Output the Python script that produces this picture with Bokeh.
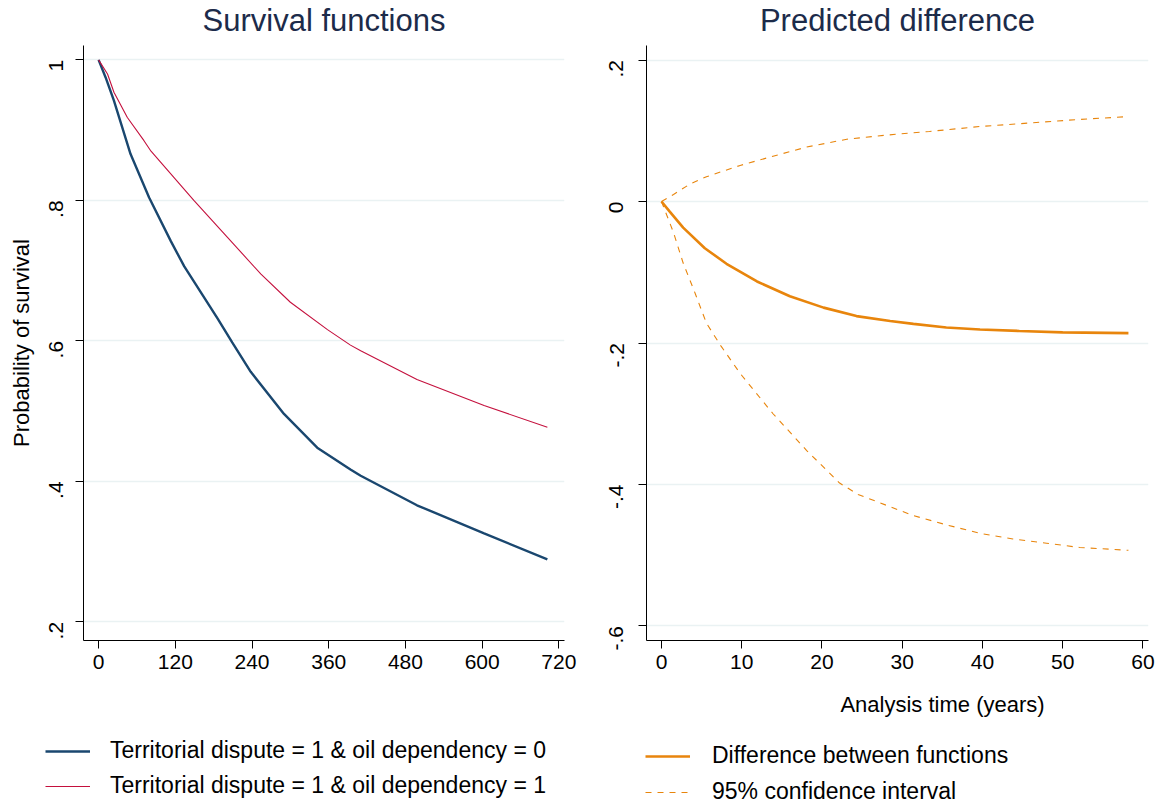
import math
from bokeh.plotting import figure
from bokeh.layouts import row, column
from bokeh.models import Range1d, FixedTicker, Legend, LegendItem, Label
from bokeh.embed import file_html
from bokeh.resources import INLINE

FONT = "Liberation Sans"
TITLE_COLOR = "#1c2b4a"
GRID_COLOR = "#eaf2f3"
NAVY = "#1a476f"
CRIMSON = "#c4103d"
ORANGE = "#e8850c"

# Survival functions (analysis time in months)
navy_months = [0, 11, 24, 50, 79, 113, 134, 186, 209, 238, 290, 342, 394, 410, 498, 603, 702]
navy_surv = [1.0, 0.975, 0.942, 0.866, 0.804, 0.742, 0.706, 0.632, 0.598, 0.556, 0.496,
             0.448, 0.417, 0.408, 0.366, 0.326, 0.289]
red_months = [0, 14, 24, 45, 71, 82, 149, 202, 254, 300, 358, 394, 410, 498, 603, 702]
red_surv = [1.0, 0.980, 0.954, 0.918, 0.885, 0.870, 0.800, 0.747, 0.695, 0.655, 0.616,
            0.594, 0.586, 0.545, 0.508, 0.477]

# Predicted difference (analysis time in years)
diff_years = [0, 1.0, 2.7, 5.4, 8.1, 11.9, 16.0, 20.2, 24.3, 28.5, 31.4, 35.5, 39.7, 44.6, 50.0, 58.2]
diff_vals = [0, -0.014, -0.037, -0.066, -0.088, -0.113, -0.134, -0.150, -0.162, -0.169,
             -0.173, -0.178, -0.181, -0.183, -0.185, -0.186]
upper_years = [0, 1.5, 3.6, 5.6, 9.8, 13.9, 18.1, 23.1, 28.2, 33.4, 39.7, 45.9, 52.1, 58.2]
upper_vals = [0, 0.010, 0.025, 0.035, 0.051, 0.064, 0.077, 0.088, 0.094, 0.099, 0.106,
              0.111, 0.116, 0.120]
lower_years = [0, 0.85, 1.5, 2.7, 4.2, 5.6, 7.4, 9.8, 13.9, 18.1, 22.2, 24.5, 28.4, 31.4,
               35.5, 39.7, 43.8, 48.0, 52.1, 58.2]
lower_vals = [0, -0.025, -0.044, -0.087, -0.130, -0.172, -0.204, -0.243, -0.300, -0.352,
              -0.398, -0.414, -0.431, -0.444, -0.457, -0.469, -0.477, -0.483, -0.489, -0.493]

left_xticks = [0, 120, 240, 360, 480, 600, 720]
left_yticks = [0.2, 0.4, 0.6, 0.8, 1.0]
left_ylabels = [".2", ".4", ".6", ".8", "1"]
right_xticks = [0, 10, 20, 30, 40, 50, 60]
right_yticks = [-0.6, -0.4, -0.2, 0.0, 0.2]
right_ylabels = ["-.6", "-.4", "-.2", "0", ".2"]

legend_left = ["Territorial dispute = 1 & oil dependency = 0",
               "Territorial dispute = 1 & oil dependency = 1"]
legend_right = ["Difference between functions", "95% confidence interval"]

TOP_H = 45      # title strip
PLOT_H = 640    # panel incl. x axis
FOOT_H = 120    # x title + legend strip
LEFT_W = 580
RIGHT_W = 576


def strip(width, height):
    s = figure(width=width, height=height, x_range=Range1d(0, width), y_range=Range1d(0, height),
               output_backend="svg", toolbar_location=None,
               x_axis_location=None, y_axis_location=None,
               min_border=0, outline_line_color=None)
    s.grid.grid_line_color = None
    return s


def title_strip(width, text, cx):
    s = strip(width, TOP_H)
    s.add_layout(Label(x=cx, y=TOP_H - 20, text=text, text_align="center",
                       text_baseline="middle", text_font=FONT, text_font_size="31px",
                       text_color=TITLE_COLOR))
    return s


def make_panel(width, border_left, border_right, x_range, y_range, ylab_standoff):
    p = figure(width=width, height=PLOT_H, x_range=x_range, y_range=y_range,
               output_backend="svg", toolbar_location=None,
               min_border_left=border_left, min_border_right=border_right,
               min_border_top=0, min_border_bottom=45)
    p.outline_line_color = None
    p.background_fill_color = "white"
    p.border_fill_color = "white"
    p.xgrid.grid_line_color = None
    p.ygrid.grid_line_color = GRID_COLOR
    p.ygrid.grid_line_width = 1.5
    for ax in (p.xaxis[0], p.yaxis[0]):
        ax.axis_line_color = "black"
        ax.axis_line_width = 1
        ax.major_tick_line_color = "black"
        ax.major_tick_out = 8
        ax.major_tick_in = 0
        ax.minor_tick_line_color = None
        ax.major_label_text_font = FONT
        ax.major_label_text_font_size = "21px"
        ax.major_label_text_color = "black"
        ax.axis_label_text_font = FONT
        ax.axis_label_text_font_size = "22px"
        ax.axis_label_text_font_style = "normal"
        ax.axis_label_text_color = "black"
    p.xaxis.major_label_standoff = 6
    p.yaxis.major_label_standoff = ylab_standoff
    p.yaxis.major_label_orientation = math.pi / 2
    return p


def legend_into(s, styles, labels, loc, standoff, spacing):
    items = []
    for st, lab in zip(styles, labels):
        # off-range stub lines carry the legend swatches
        r = s.line([-100, -90], [-100, -100], **st)
        items.append(LegendItem(label=lab, renderers=[r]))
    s.add_layout(Legend(items=items, location=loc, orientation="vertical",
                        glyph_width=45, glyph_height=24, label_height=24,
                        label_standoff=standoff, spacing=spacing, padding=0, margin=0,
                        label_text_font=FONT, label_text_font_size="23px",
                        label_text_color="black", border_line_color=None,
                        background_fill_alpha=0))


navy_style = dict(line_color=NAVY, line_width=2.4)
red_style = dict(line_color=CRIMSON, line_width=1.1)
diff_style = dict(line_color=ORANGE, line_width=2.6)
ci_style = dict(line_color=ORANGE, line_width=1.1, line_dash="6 6")

# Left panel: survival functions
left = make_panel(LEFT_W, 83, 16, Range1d(-23.6, 728.8), Range1d(0.1735, 1.0205), 19)
left.xaxis.ticker = FixedTicker(ticks=left_xticks, minor_ticks=[])
left.yaxis.ticker = FixedTicker(ticks=left_yticks, minor_ticks=[])
left.yaxis.major_label_overrides = {t: s for t, s in zip(left_yticks, left_ylabels)}
left.yaxis.axis_label = "Probability of survival"
left.yaxis.axis_label_standoff = 6
left.line(navy_months, navy_surv, **navy_style)
left.line(red_months, red_surv, **red_style)

# Right panel: predicted difference with its 95% band
right = make_panel(RIGHT_W, 66, 8, Range1d(-1.87, 60.7), Range1d(-0.6205, 0.2205), 22)
right.xaxis.ticker = FixedTicker(ticks=right_xticks, minor_ticks=[])
right.yaxis.ticker = FixedTicker(ticks=right_yticks, minor_ticks=[])
right.yaxis.major_label_overrides = {t: s for t, s in zip(right_yticks, right_ylabels)}
right.line(upper_years, upper_vals, **ci_style)
right.line(lower_years, lower_vals, **ci_style)
right.line(diff_years, diff_vals, **diff_style)

# Titles above each panel, centred on the plot area
top_left = title_strip(LEFT_W, "Survival functions", (83 + 564) / 2)
top_right = title_strip(RIGHT_W, "Predicted difference", (66 + 568) / 2)

# Footer strips: x-axis title of the right panel and the two legends
foot_left = strip(LEFT_W, FOOT_H)
legend_into(foot_left, [navy_style, red_style], legend_left, (45, 6), 20, 8)
foot_right = strip(RIGHT_W, FOOT_H)
foot_right.add_layout(Label(x=362, y=FOOT_H - 19, text="Analysis time (years)",
                            text_align="center", text_baseline="middle", text_font=FONT,
                            text_font_size="22px", text_color="black"))
legend_into(foot_right, [diff_style, ci_style], legend_right, (65, 0), 22, 9)

layout = column(row(top_left, top_right, spacing=0),
                row(left, right, spacing=0),
                row(foot_left, foot_right, spacing=0), spacing=0)
open("out.html", "w").write(file_html(layout, INLINE))
